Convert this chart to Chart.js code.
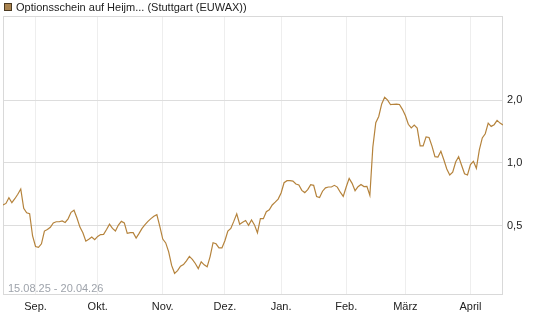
<!DOCTYPE html>
<html>
<head>
<meta charset="utf-8">
<script src="https://cdn.jsdelivr.net/npm/chart.js@4"></script>
<style>
  html, body { margin: 0; padding: 0; background: #fff; }
  canvas { display: block; }
</style>
</head>
<body>
<canvas id="chart" width="545" height="327"></canvas>
<script>
// daily closes, one per trading day 15.08.25 - 20.04.26
const prices = [
  0.630, 0.641, 0.683, 0.646, 0.675, 0.709, 0.751, 0.607, 0.578, 0.572,
  0.448, 0.399, 0.395, 0.411, 0.473, 0.481, 0.493, 0.517, 0.524, 0.524,
  0.529, 0.520, 0.541, 0.581, 0.595, 0.546, 0.494, 0.464, 0.423, 0.432,
  0.443, 0.430, 0.446, 0.455, 0.456, 0.481, 0.510, 0.487, 0.473, 0.505,
  0.526, 0.517, 0.461, 0.465, 0.465, 0.438, 0.461, 0.487, 0.508, 0.526,
  0.542, 0.557, 0.566, 0.498, 0.433, 0.415, 0.376, 0.324, 0.297, 0.306,
  0.321, 0.327, 0.341, 0.358, 0.346, 0.331, 0.313, 0.337, 0.326, 0.319,
  0.357, 0.416, 0.411, 0.393, 0.393, 0.425, 0.473, 0.487, 0.526, 0.572,
  0.510, 0.521, 0.531, 0.504, 0.534, 0.506, 0.464, 0.542, 0.542, 0.585,
  0.597, 0.630, 0.650, 0.672, 0.719, 0.805, 0.823, 0.823, 0.820, 0.794,
  0.786, 0.740, 0.722, 0.746, 0.787, 0.782, 0.692, 0.684, 0.733, 0.761,
  0.768, 0.768, 0.782, 0.767, 0.725, 0.693, 0.768, 0.844, 0.799, 0.737,
  0.770, 0.790, 0.772, 0.774, 0.700, 1.189, 1.559, 1.668, 1.916, 2.060,
  1.998, 1.899, 1.908, 1.910, 1.904, 1.805, 1.686, 1.531, 1.470, 1.516,
  1.468, 1.208, 1.206, 1.333, 1.324, 1.204, 1.072, 1.068, 1.137, 1.036,
  0.937, 0.877, 0.903, 1.011, 1.072, 0.975, 0.888, 0.876, 0.983, 1.019,
  0.944, 1.156, 1.318, 1.380, 1.550, 1.496, 1.524, 1.598, 1.551, 1.519
];
const monthNames = ['Sep.', 'Okt.', 'Nov.', 'Dez.', 'Jan.', 'Feb.', 'März', 'April'];
const monthStart = [11, 32, 54, 75, 94, 116, 136, 158];
const yTicks = [0.5, 1, 2];
const seriesName = 'Optionsschein auf Heijm... (Stuttgart (EUWAX))';
const rangeText = '15.08.25 - 20.04.26';

const lineColor = '#b5833c';
const points = prices.map((v, i) => ({ x: i, y: v }));

const framePlugin = {
  id: 'frame',
  beforeDatasetsDraw(chart) {
    const { ctx, chartArea: a } = chart;
    ctx.save();
    ctx.strokeStyle = '#d9d9d9';
    ctx.lineWidth = 1;
    ctx.strokeRect(Math.round(a.left) + 0.5, Math.round(a.top) + 0.5,
      Math.round(a.right - a.left) - 1, Math.round(a.bottom - a.top) - 1);
    ctx.restore();
  },
  afterDraw(chart) {
    const { ctx, chartArea: a } = chart;
    ctx.save();
    // legend
    ctx.fillStyle = '#a9834f';
    ctx.fillRect(4, 3, 8, 8);
    ctx.strokeStyle = '#4a3a22';
    ctx.lineWidth = 1;
    ctx.strokeRect(4.5, 3.5, 7, 7);
    ctx.fillStyle = '#222';
    ctx.font = '11px "Liberation Sans", Arial, sans-serif';
    ctx.textBaseline = 'middle';
    ctx.fillText(seriesName, 16, 7.5);
    // period
    ctx.fillStyle = '#9ea3ab';
    ctx.textBaseline = 'alphabetic';
    ctx.fillText(rangeText, a.left + 5, a.bottom - 3);
    ctx.restore();
  }
};

new Chart(document.getElementById('chart'), {
  type: 'line',
  data: {
    datasets: [{
      label: seriesName,
      data: points,
      borderColor: lineColor,
      borderWidth: 1.2,
      pointRadius: 0,
      tension: 0,
      fill: false
    }]
  },
  options: {
    responsive: false,
    animation: false,
    layout: { padding: { left: 3, top: 16, right: 0, bottom: 0 } },
    plugins: { legend: { display: false }, tooltip: { enabled: false } },
    scales: {
      x: {
        type: 'linear',
        min: 0,
        max: prices.length - 1,
        afterBuildTicks(axis) { axis.ticks = monthStart.map(v => ({ value: v })); },
        afterFit(axis) { axis.height = 32; },
        grid: { color: '#eeeeee', drawTicks: false },
        border: { display: false },
        ticks: {
          autoSkip: false,
          maxRotation: 0,
          padding: 5,
          color: '#222',
          font: { size: 11, family: '"Liberation Sans", Arial, sans-serif' },
          callback: v => monthNames[monthStart.indexOf(v)]
        }
      },
      y: {
        type: 'logarithmic',
        position: 'right',
        min: 0.234,
        max: 5.04,
        afterBuildTicks(axis) { axis.ticks = yTicks.map(v => ({ value: v })); },
        afterFit(axis) { axis.width = 42; },
        grid: { color: '#dddddd', drawTicks: false },
        border: { display: false },
        ticks: {
          padding: 4,
          color: '#222',
          font: { size: 11, family: '"Liberation Sans", Arial, sans-serif' },
          callback: v => v.toFixed(1).replace('.', ',')
        }
      }
    }
  },
  plugins: [framePlugin]
});
</script>
</body>
</html>
